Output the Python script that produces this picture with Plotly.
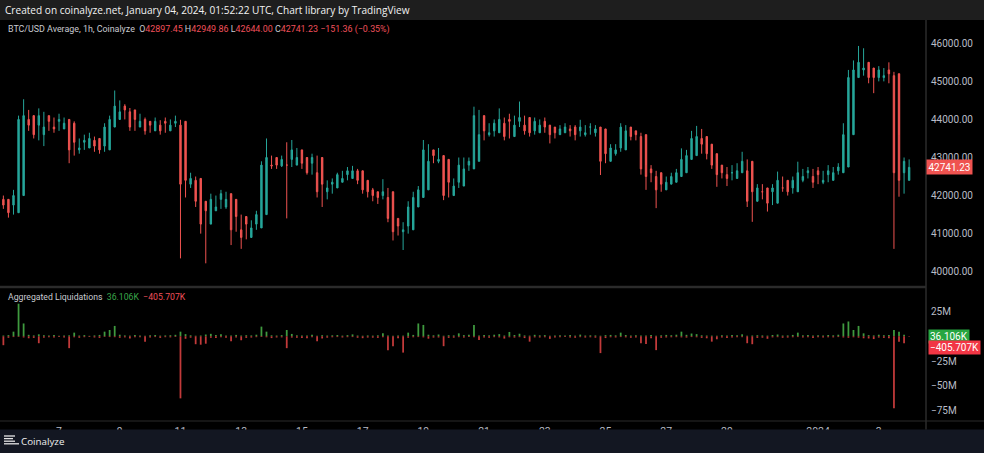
import plotly.graph_objects as go
import pandas as pd

# ---------------- data (4h candles) ----------------
candle_start = "2023-12-05 04:00"
n_candles = 180
times = pd.date_range(candle_start, periods=n_candles, freq="4h")

opens = [
    41900, 41750, 41550, 42000, 44000, 44100, 43850, 43600, 44100, 43800,
    43950, 43750, 44000, 43900, 43200, 43400, 43250, 43450, 43500, 43300,
    43200, 43800, 44000, 44350, 44200, 44250, 43800, 44000, 43950, 43700,
    43850, 43950, 43700, 43900, 43850, 43950, 42300, 42400, 42450, 41850,
    41250, 41600, 41900, 41700, 42050, 41900, 41100, 41450, 40900, 41250,
    41150, 41500, 42800, 43000, 42780, 42800, 42950, 42800, 43200, 43000,
    42850, 42600, 43000, 42100, 42300, 42200, 42350, 42550, 42450, 42650,
    42650, 42400, 42150, 42100, 42000, 41950, 42100, 41400, 41050, 41200,
    41100, 41700, 41950, 42150, 43200, 42900, 43050, 42950, 42000, 42350,
    42250, 42800, 42700, 42900, 44100, 43600, 43700, 43650, 43900, 44000,
    43550, 43950, 43850, 44050, 43700, 43650, 43950, 43850, 43800, 43600,
    43650, 43750, 43800, 43700, 43600, 43800, 43650, 43800, 43750, 42900,
    43100, 43250, 43200, 43800, 43700, 43550, 43600, 42700, 42500, 42600,
    42150, 42300, 42350, 42500, 42600, 42950, 43050, 43500, 43550, 43350,
    43100, 42800, 42550, 42600, 42450, 42600, 42650, 42900, 41850, 42100,
    42200, 42100, 41800, 42200, 42400, 42200, 42100, 42400, 42600, 42500,
    42650, 42350, 42550, 42400, 42650, 42600, 42750, 43600, 45100, 45300,
    45500, 45350, 45100, 45100, 45300, 45150, 45200, 42600, 42400, 42900,
]
opens = [41900] + opens[:-1]
highs = [
    42000, 41800, 42150, 44100, 44530, 44250, 43950, 44290, 44200, 44100,
    44050, 44150, 44050, 43950, 43950, 43500, 43600, 43650, 43550, 43400,
    43900, 44100, 44760, 44500, 44400, 44300, 44150, 44150, 44050, 43950,
    44050, 43980, 44050, 44000, 44100, 43990, 42650, 42600, 42500, 41900,
    41700, 42050, 42000, 42150, 42100, 41950, 41600, 41500, 41400, 41350,
    41600, 42900, 43500, 43050, 42950, 43050, 43400, 43460, 43250, 43100,
    42900, 43100, 43050, 42400, 42400, 42450, 42600, 42650, 42750, 42780,
    42700, 42450, 42250, 42200, 42100, 42430, 42200, 41450, 41400, 41300,
    41850, 42100, 42250, 43460, 43350, 43200, 43250, 43000, 42450, 42450,
    43000, 43000, 43000, 44335, 44250, 43850, 43900, 44000, 44290, 44050,
    44150, 44100, 44470, 44100, 43850, 44050, 44000, 44050, 43850, 43750,
    43850, 43900, 43850, 43850, 43990, 43850, 43900, 43850, 43800, 43200,
    43350, 43350, 43900, 43850, 43750, 43700, 43650, 42800, 42800, 42650,
    42450, 42500, 42600, 42700, 43240, 43200, 43700, 43830, 43750, 43400,
    43150, 42850, 42800, 42750, 42800, 42850, 43150, 42950, 42250, 42300,
    42300, 42150, 42300, 42630, 42500, 42300, 42500, 42890, 42700, 42750,
    42700, 42750, 42650, 42800, 42750, 42850, 43900, 45300, 45550, 45930,
    45870, 45450, 45300, 45400, 45350, 45500, 45250, 43590, 43000, 42949.86,
]
lows = [
    41650, 41420, 41500, 41950, 43900, 43700, 43500, 43450, 43300, 43700,
    43650, 43700, 43750, 42850, 43050, 43100, 43200, 43300, 43150, 43100,
    43150, 43700, 43950, 44050, 44000, 43700, 43700, 43800, 43600, 43650,
    43750, 43600, 43650, 43700, 43800, 40350, 41950, 42200, 41700, 41000,
    40220, 41500, 41600, 41650, 41650, 40700, 41050, 40600, 40850, 41000,
    41100, 41450, 42750, 42700, 42700, 42750, 41400, 42750, 42850, 42700,
    42550, 42550, 41950, 41700, 41900, 42050, 42200, 42350, 42400, 42500,
    42300, 42050, 41950, 41850, 41780, 41900, 41300, 40820, 40950, 40570,
    41000, 41600, 41850, 42100, 42800, 42850, 42850, 41880, 41950, 42150,
    42200, 42450, 42650, 42850, 43300, 43450, 43550, 43550, 43800, 43450,
    43500, 43700, 43800, 43600, 43550, 43600, 43700, 43650, 43370, 43500,
    43600, 43650, 43550, 43450, 43550, 43550, 43600, 43550, 42540, 42850,
    43050, 43050, 43150, 43550, 43450, 43450, 42550, 42150, 42350, 41670,
    42100, 42200, 42300, 42400, 42550, 42850, 43000, 43400, 43100, 42950,
    42700, 42230, 42450, 42250, 42400, 42450, 42600, 41700, 41310, 41950,
    41900, 41580, 41750, 42100, 42100, 42000, 42050, 42350, 42350, 42450,
    42200, 42300, 42300, 42350, 42500, 42550, 42700, 43500, 45050, 45200,
    45150, 44950, 44690, 45000, 45000, 44950, 40600, 41970, 42050, 42644.00,
]
closes = [
    41750, 41550, 42000, 44000, 44100, 43850, 43600, 44100, 43800, 43950,
    43750, 44000, 43900, 43200, 43400, 43250, 43450, 43500, 43300, 43200,
    43800, 44000, 44350, 44200, 44250, 43800, 44000, 43950, 43700, 43850,
    43950, 43700, 43900, 43850, 43950, 42300, 42400, 42450, 41850, 41250,
    41600, 41900, 41700, 42050, 41900, 41100, 41450, 40900, 41250, 41150,
    41500, 42800, 43000, 42780, 42800, 42950, 42800, 43200, 43000, 42850,
    42600, 43000, 42100, 42300, 42200, 42350, 42550, 42450, 42650, 42650,
    42400, 42150, 42100, 42000, 41950, 42100, 41400, 41050, 41200, 41100,
    41700, 41950, 42150, 43200, 42900, 43050, 42950, 42000, 42350, 42250,
    42800, 42700, 42900, 44100, 43600, 43700, 43650, 43900, 44000, 43550,
    43950, 43850, 44050, 43700, 43650, 43950, 43850, 43800, 43600, 43650,
    43750, 43800, 43700, 43600, 43800, 43650, 43800, 43750, 42900, 43100,
    43250, 43200, 43800, 43700, 43550, 43600, 42700, 42500, 42600, 42150,
    42300, 42350, 42500, 42600, 42950, 43050, 43500, 43550, 43350, 43100,
    42800, 42550, 42600, 42450, 42600, 42650, 42900, 41850, 42100, 42200,
    42100, 41800, 42200, 42400, 42200, 42100, 42400, 42600, 42500, 42650,
    42350, 42550, 42400, 42650, 42600, 42750, 43600, 45100, 45300, 45500,
    45350, 45100, 45100, 45300, 45150, 45200, 42600, 42400, 42900, 42741.23,
]

# aggregated liquidations, millions USD (shorts positive, longs negative)
shorts_m = [
    0.8, 1.2, 4.7, 33.0, 13.0, 1.5, 0.9, 2.0, 1.1, 0.7, 1.3, 0.6, 0.9, 1.0, 3.7, 0.8, 1.2, 0.5, 0.9, 1.4,
    4.7, 6.4, 10.5, 1.6, 0.9, 0.7, 1.2, 0.8, 0.6, 1.0, 1.3, 0.7, 0.9, 1.1, 1.5, 4.7, 2.2, 1.0, 0.6, 0.8,
    1.8, 2.5, 1.2, 2.0, 0.9, 0.7, 1.4, 0.8, 1.1, 0.9, 1.6, 9.8, 4.7, 1.0, 0.8, 1.2, 6.4, 2.4, 1.0, 0.7,
    0.9, 1.5, 0.6, 1.1, 0.8, 1.0, 1.3, 0.7, 1.2, 1.9, 0.8, 0.6, 0.9, 0.7, 1.0, 3.0, 0.8, 0.5, 0.9, 0.7,
    3.7, 1.4, 13.0, 11.5, 1.6, 1.0, 1.8, 0.6, 1.1, 0.9, 3.0, 1.2, 1.5, 11.5, 0.9, 1.3, 1.0, 1.6, 2.2, 0.8,
    4.4, 1.3, 2.6, 0.9, 0.7, 1.5, 1.0, 1.2, 0.6, 0.9, 1.1, 0.8, 1.3, 0.7, 1.7, 0.8, 1.0, 0.9, 0.6, 1.2,
    1.4, 1.0, 3.7, 1.3, 0.8, 1.1, 0.7, 0.9, 1.2, 0.6, 1.0, 1.4, 1.1, 1.6, 4.7, 1.5, 2.8, 2.2, 1.0, 0.8,
    0.7, 0.6, 1.1, 0.9, 1.2, 1.0, 2.0, 0.6, 0.8, 1.1, 0.9, 0.7, 1.3, 1.8, 0.8, 0.9, 1.4, 3.7, 1.0, 1.2,
    0.8, 1.1, 0.9, 1.3, 1.0, 1.6, 13.0, 15.0, 6.4, 10.5, 3.0, 1.2, 0.9, 1.6, 1.1, 1.4, 6.4, 4.7, 1.5, 0.036,
]
longs_m = [
    -9.0, -1.5, -0.8, -0.6, -1.2, -2.0, -1.6, -7.0, -1.4, -0.9, -1.1, -0.8, -1.3, -12.0, -1.0, -1.5, -0.9, -0.7, -1.2, -1.6,
    -0.6, -0.8, -0.9, -1.5, -1.1, -2.2, -0.9, -1.0, -5.4, -1.3, -0.8, -1.6, -0.9, -1.1, -0.7, -62.8, -2.5, -1.4, -8.0, -8.5,
    -7.5, -1.5, -1.8, -1.0, -1.4, -5.0, -1.2, -4.0, -1.6, -1.3, -0.9, -0.7, -1.0, -1.8, -1.2, -1.1, -12.0, -1.3, -1.5, -1.7,
    -2.0, -0.9, -5.0, -2.2, -1.4, -1.0, -0.8, -1.2, -0.9, -0.8, -1.5, -1.9, -1.3, -1.4, -1.6, -0.9, -14.0, -10.0, -2.0, -16.5,
    -1.5, -1.0, -0.8, -1.1, -2.4, -1.3, -1.2, -10.0, -1.6, -1.4, -0.9, -1.3, -0.8, -1.0, -3.7, -1.2, -1.5, -0.9, -1.1, -2.3,
    -1.0, -1.3, -0.9, -1.8, -5.4, -1.1, -1.2, -1.0, -2.6, -1.1, -0.9, -0.8, -1.2, -1.5, -0.9, -1.3, -1.0, -1.4, -17.0, -1.8,
    -1.0, -1.2, -0.8, -1.1, -1.5, -1.3, -7.0, -7.8, -2.0, -14.0, -1.5, -1.2, -1.0, -0.9, -1.1, -1.3, -0.8, -1.0, -1.6, -2.0,
    -5.4, -3.0, -1.2, -1.8, -1.1, -1.0, -0.9, -7.0, -8.0, -1.6, -1.4, -2.5, -1.1, -0.9, -1.5, -1.3, -1.0, -0.8, -1.2, -1.0,
    -1.6, -0.9, -1.3, -1.0, -1.1, -0.8, -1.2, -1.5, -1.0, -1.4, -2.0, -2.2, -2.8, -1.3, -1.6, -1.9, -72.9, -5.4, -7.0, -0.406,
]

price_ticks = [40000, 41000, 42000, 43000, 44000, 45000, 46000]
liq_tickvals = [25, -25, -50, -75]
liq_ticktext = ["25M", "\u221225M", "\u221250M", "\u221275M"]
date_tickvals = ["2023-12-07", "2023-12-09", "2023-12-11", "2023-12-13", "2023-12-15",
                 "2023-12-17", "2023-12-19", "2023-12-21", "2023-12-23", "2023-12-25",
                 "2023-12-27", "2023-12-29", "2024-01-01", "2024-01-03"]
date_ticktext = ["7", "9", "11", "13", "15", "17", "19", "21", "23", "25", "27", "29", "2024", "3"]

last_price = 42741.23
x_range = ["2023-12-05 01:20", "2024-01-04 13:20"]

# ---------------- layout helpers (pixel -> paper) ----------------
W, H = 984, 453
PL, PR, PT, PB = 0, 58, 22, 32
PW = W - PL - PR
PH = H - PT - PB
BOTTOM = H - PB


def px(x):
    return (x - PL) / PW


def py(y):
    return (BOTTOM - y) / PH


UP = "#26a69a"
DOWN = "#ef5350"
TXT = "#b8bcc6"
FONT = "Roboto"

fig = go.Figure()
fig.add_trace(go.Candlestick(
    x=times, open=opens, high=highs, low=lows, close=closes,
    increasing=dict(line=dict(color=UP, width=1), fillcolor=UP),
    decreasing=dict(line=dict(color=DOWN, width=1), fillcolor=DOWN),
    whiskerwidth=0, xaxis="x", yaxis="y", hoverinfo="skip", showlegend=False,
))
bar_w = 1.4 * 3600 * 1000
fig.add_trace(go.Bar(x=times, y=shorts_m, width=bar_w, marker=dict(color="#3f9a3f", line=dict(width=0)),
                     xaxis="x2", yaxis="y2", hoverinfo="skip", showlegend=False))
fig.add_trace(go.Bar(x=times, y=longs_m, width=bar_w, marker=dict(color="#c23a3a", line=dict(width=0)),
                     xaxis="x2", yaxis="y2", hoverinfo="skip", showlegend=False))

price_top = 46000 + (43.3 - PT) * 26.27
price_bot = 46000 - (287 - 43.3) * 26.27
liq_top = (336.3 - 289) / 24.7 * 25
liq_bot = (336.3 - BOTTOM) / 24.7 * 25

fig.update_layout(
    width=W, height=H,
    margin=dict(l=PL, r=PR, t=PT, b=PB),
    paper_bgcolor="#000000", plot_bgcolor="#000000",
    barmode="overlay", boxgap=0.6,
    font=dict(family=FONT, color=TXT, size=10),
    xaxis=dict(domain=[0, 1], anchor="y", type="date", range=x_range, showticklabels=False,
               showgrid=False, zeroline=False, rangeslider=dict(visible=False), fixedrange=True),
    yaxis=dict(domain=[py(287), 1], anchor="x", side="right", range=[price_bot, price_top],
               tickvals=price_ticks, tickformat=".2f", showgrid=False, zeroline=False,
               ticks="", ticklabelstandoff=4, tickfont=dict(size=10, color=TXT)),
    xaxis2=dict(domain=[0, 1], anchor="y2", type="date", range=x_range, matches="x",
                tickvals=date_tickvals, ticktext=date_ticktext, showgrid=False, zeroline=False,
                ticks="", tickfont=dict(size=10.5, color=TXT), ticklabelstandoff=2),
    yaxis2=dict(domain=[0, py(289)], anchor="x2", side="right", range=[liq_bot, liq_top],
                tickvals=liq_tickvals, ticktext=liq_ticktext, showgrid=False, zeroline=False,
                ticks="", ticklabelstandoff=4, tickfont=dict(size=10, color=TXT)),
)

shapes = [
    # header bar
    dict(type="rect", xref="paper", yref="paper", x0=px(0), x1=px(W), y0=py(20), y1=py(0),
         fillcolor="#1e1e1e", line=dict(width=0), layer="above"),
    # footer bar
    dict(type="rect", xref="paper", yref="paper", x0=px(0), x1=px(W), y0=py(H), y1=py(429.5),
         fillcolor="#131722", line=dict(width=0), layer="above"),
    # panel separator
    dict(type="line", xref="paper", yref="paper", x0=px(0), x1=px(926), y0=py(287), y1=py(287),
         line=dict(color="#2b2b2b", width=2.5), layer="above"),
    # bottom border of chart
    dict(type="line", xref="paper", yref="paper", x0=px(0), x1=px(W), y0=py(421), y1=py(421),
         line=dict(color="#2b2b2b", width=1), layer="above"),
    # price scale separator
    dict(type="line", xref="paper", yref="paper", x0=px(926), x1=px(926), y0=py(429.5), y1=py(20),
         line=dict(color="#2b2b2b", width=1.5), layer="above"),
]
# hamburger icon in the footer
for yy, x1 in [(436.0, 15), (438.6, 13), (441.2, 15), (443.8, 19)]:
    shapes.append(dict(type="line", xref="paper", yref="paper", x0=px(4), x1=px(x1), y0=py(yy), y1=py(yy),
                       line=dict(color="#e6e6e6", width=1.3), layer="above"))
fig.update_layout(shapes=shapes)

R = "#f0515b"
G = "#3aa64a"
legend_text = ("BTC/USD Average, 1h, Coinalyze  "
               f"O<span style='color:{R}'>42897.45</span> H<span style='color:{R}'>42949.86</span> "
               f"L<span style='color:{R}'>42644.00</span> C<span style='color:{R}'>42741.23</span> "
               f"<span style='color:{R}'>\u2212151.36 (\u22120.35%)</span>")
liq_text = (f"Aggregated Liquidations  <span style='color:{G}'>36.106K</span>  "
            f"<span style='color:{R}'>\u2212405.707K</span>")

annotations = [
    dict(text="Created on coinalyze.net, January 04, 2024, 01:52:22 UTC, Chart library by TradingView",
         xref="paper", yref="paper", x=px(3), y=py(10), xanchor="left", yanchor="middle",
         showarrow=False, font=dict(family="Open Sans", size=10.1, color="#f2f2f2")),
    dict(text=legend_text, xref="paper", yref="paper", x=px(6), y=py(29.5), xanchor="left",
         yanchor="middle", showarrow=False, font=dict(family=FONT, size=8.9, color="#c8cad0")),
    dict(text=liq_text, xref="paper", yref="paper", x=px(6), y=py(296.5), xanchor="left",
         yanchor="middle", showarrow=False, font=dict(family=FONT, size=8.7, color="#c8cad0")),
    dict(text="42741.23", xref="paper", yref="y", x=px(926.5), y=last_price, xanchor="left",
         yanchor="middle", showarrow=False, bgcolor="#ef5350", borderpad=1.5,
         font=dict(family=FONT, size=10, color="#ffffff")),
    dict(text="36.106K", xref="paper", yref="y2", x=px(927.5), y=0, xanchor="left",
         yanchor="middle", showarrow=False, bgcolor="#26a641", borderpad=1,
         font=dict(family=FONT, size=10, color="#ffffff")),
    dict(text="\u2212405.707K", xref="paper", yref="y2", x=px(927.5), y=0, yshift=-11.5, xanchor="left",
         yanchor="middle", showarrow=False, bgcolor="#f23645", borderpad=1,
         font=dict(family=FONT, size=10, color="#ffffff")),
    dict(text="Coinalyze", xref="paper", yref="paper", x=px(18.5), y=py(441), xanchor="left",
         yanchor="middle", showarrow=False, font=dict(family="Open Sans", size=9.8, color="#f0f0f0")),
]
fig.update_layout(annotations=annotations)

fig.write_html(
    "out.html",
    config=dict(displayModeBar=False, staticPlot=True),
    post_script="document.body.style.margin='0';document.body.style.overflow='hidden';",
)
